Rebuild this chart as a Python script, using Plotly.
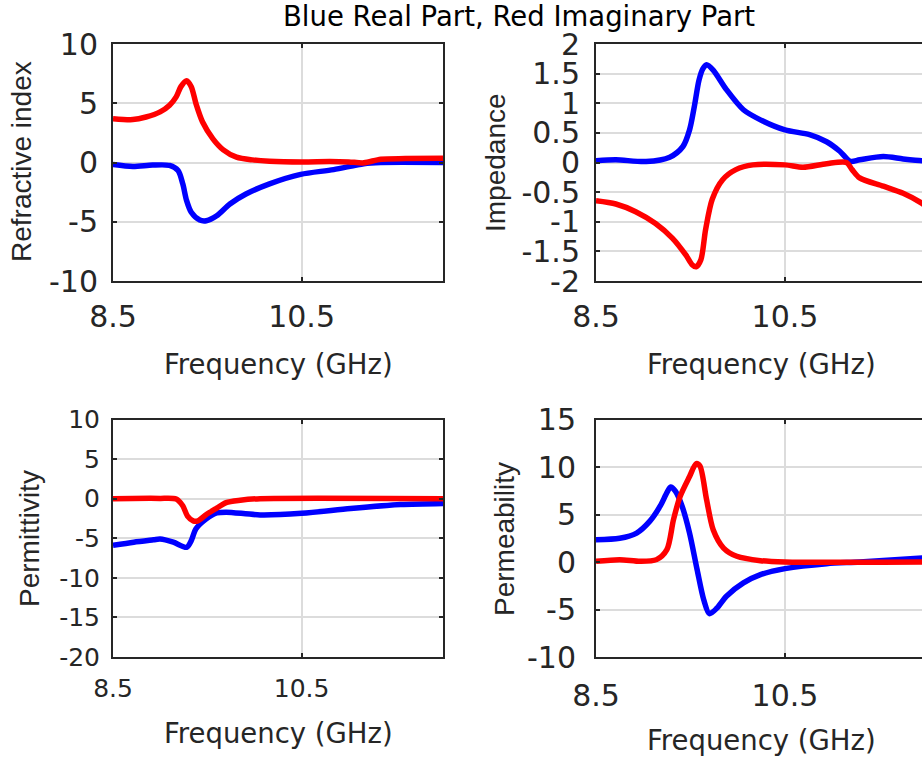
import plotly.graph_objects as go

# ---------------- data ----------------
# Refractive index
n_re_f = [8.5, 8.71, 8.92, 9.1, 9.19, 9.24, 9.28, 9.33, 9.42, 9.49, 9.6, 9.74, 9.91, 10.16, 10.49, 10.84, 11.16, 11.34, 12.0]
n_re = [-0.17, -0.34, -0.22, -0.25, -0.68, -1.8, -3.2, -4.2, -4.86, -4.92, -4.5, -3.5, -2.66, -1.8, -1.0, -0.6, -0.1, 0.0, 0.0]
n_im_f = [8.5, 8.71, 8.85, 9.0, 9.1, 9.17, 9.22, 9.28, 9.33, 9.38, 9.45, 9.56, 9.67, 9.81, 9.98, 10.16, 10.5, 10.8, 11.0, 11.16, 11.34, 11.6, 12.0]
n_im = [3.7, 3.62, 3.84, 4.27, 4.83, 5.54, 6.4, 6.9, 6.4, 4.97, 3.42, 2.0, 1.07, 0.45, 0.22, 0.11, 0.05, 0.08, 0.05, -0.03, 0.28, 0.33, 0.35]

# Impedance
z_re_f = [8.5, 8.71, 9.03, 9.28, 9.42, 9.49, 9.54, 9.59, 9.63, 9.67, 9.74, 9.88, 10.06, 10.24, 10.5, 10.76, 10.94, 11.08, 11.19, 11.29, 11.54, 11.75, 11.95, 12.0]
z_re = [0.03, 0.045, 0.017, 0.09, 0.27, 0.55, 0.94, 1.39, 1.58, 1.65, 1.56, 1.23, 0.89, 0.72, 0.55, 0.47, 0.35, 0.19, 0.02, 0.045, 0.1, 0.06, 0.03, 0.03]
z_im_f = [8.5, 8.71, 8.92, 9.13, 9.31, 9.45, 9.52, 9.56, 9.61, 9.66, 9.73, 9.84, 9.98, 10.16, 10.5, 10.69, 10.94, 11.15, 11.21, 11.29, 11.54, 11.75, 11.95, 12.0]
z_im = [-0.645, -0.7, -0.83, -1.03, -1.28, -1.56, -1.73, -1.76, -1.64, -1.13, -0.62, -0.29, -0.12, -0.04, -0.04, -0.08, -0.02, 0.0, -0.12, -0.26, -0.4, -0.52, -0.69, -0.75]

# Permittivity
e_re_f = [8.5, 8.72, 8.93, 9.0, 9.14, 9.28, 9.33, 9.38, 9.49, 9.6, 9.7, 10.06, 10.5, 11.02, 11.55, 12.0]
e_re = [-5.9, -5.5, -5.2, -5.1, -5.5, -6.14, -5.3, -3.8, -2.55, -1.8, -1.7, -2.05, -1.85, -1.25, -0.75, -0.6]
e_im_f = [8.5, 8.9, 9.0, 9.17, 9.24, 9.29, 9.35, 9.4, 9.49, 9.6, 9.7, 9.85, 10.06, 12.0]
e_im = [0.0, 0.05, 0.03, -0.05, -0.9, -2.2, -2.8, -2.8, -2.0, -1.2, -0.5, -0.2, 0.0, 0.0]

# Permeability
u_re_f = [8.5, 8.75, 8.93, 9.07, 9.18, 9.25, 9.29, 9.34, 9.41, 9.49, 9.57, 9.64, 9.7, 9.78, 9.88, 10.06, 10.24, 10.5, 10.94, 11.29, 12.0]
u_re = [2.35, 2.5, 3.05, 4.3, 5.9, 7.3, 7.9, 7.45, 5.9, 3.05, -0.8, -3.97, -5.44, -4.85, -3.6, -2.2, -1.33, -0.7, -0.18, 0.0, 0.45]
u_im_f = [8.5, 8.75, 8.97, 9.14, 9.25, 9.32, 9.39, 9.49, 9.56, 9.6, 9.67, 9.74, 9.85, 9.99, 10.24, 10.5, 12.0]
u_im = [0.07, 0.25, 0.07, 0.25, 1.3, 4.46, 6.9, 9.0, 10.36, 10.1, 6.57, 3.4, 1.47, 0.6, 0.14, 0.0, 0.0]

x_ticks = [8.5, 10.5]
x_ticktext = ["8.5", "10.5"]
n_ticks = [-10, -5, 0, 5, 10]
n_ticktext = ["-10", "-5", "0", "5", "10"]
z_ticks = [-2, -1.5, -1, -0.5, 0, 0.5, 1, 1.5, 2]
z_ticktext = ["-2", "-1.5", "-1", "-0.5", "0", "0.5", "1", "1.5", "2"]
e_ticks = [-20, -15, -10, -5, 0, 5, 10]
e_ticktext = ["-20", "-15", "-10", "-5", "0", "5", "10"]
u_ticks = [-10, -5, 0, 5, 10, 15]
u_ticktext = ["-10", "-5", "0", "5", "10", "15"]

title_text = "Blue Real Part, Red Imaginary Part"
x_label = "Frequency (GHz)"
y_labels = ["Refractive index", "Impedance", "Permittivity", "Permeability"]

# ---------------- figure ----------------
W, H = 922, 758
BLUE = "rgb(0,0,255)"
RED = "rgb(255,0,0)"
DARK = "#262626"
LW = 5.5

fig = go.Figure()

series = [
    (n_re_f, n_re, n_im_f, n_im, "x", "y"),
    (z_re_f, z_re, z_im_f, z_im, "x2", "y2"),
    (e_re_f, e_re, e_im_f, e_im, "x3", "y3"),
    (u_re_f, u_re, u_im_f, u_im, "x4", "y4"),
]
for rf, rv, imf, imv, xa, ya in series:
    fig.add_trace(go.Scatter(x=rf, y=rv, mode="lines", xaxis=xa, yaxis=ya,
                             line=dict(color=BLUE, width=LW, shape="spline", smoothing=0.8),
                             showlegend=False, hoverinfo="skip"))
    fig.add_trace(go.Scatter(x=imf, y=imv, mode="lines", xaxis=xa, yaxis=ya,
                             line=dict(color=RED, width=LW, shape="spline", smoothing=0.8),
                             showlegend=False, hoverinfo="skip"))

left_dom = [113 / W, 443 / W]
right_dom = [596 / W, 1.0]
top_dom = [1 - 281 / H, 1 - 44 / H]
bot_dom = [1 - 657 / H, 1 - 419.5 / H]

tick_font = dict(family="DejaVu Sans", size=30, color=DARK)
tick_font_small = dict(family="DejaVu Sans", size=25, color=DARK)


def xaxis(dom, anchor, rng, font, standoff):
    return dict(domain=dom, anchor=anchor, range=rng, tickvals=x_ticks, ticktext=x_ticktext,
                showline=True, linecolor=DARK, linewidth=2, mirror="ticks",
                ticks="inside", ticklen=4, tickwidth=2, tickcolor=DARK,
                showgrid=True, gridcolor="#dcdcdc", gridwidth=1.5, zeroline=False,
                tickfont=font, ticklabelstandoff=standoff, automargin=False, fixedrange=True)


def yaxis(dom, anchor, rng, vals, text, font, mirror, standoff):
    return dict(domain=dom, anchor=anchor, range=rng, tickvals=vals, ticktext=text,
                showline=True, linecolor=DARK, linewidth=2, mirror=mirror,
                ticks="inside", ticklen=4, tickwidth=2, tickcolor=DARK,
                showgrid=True, gridcolor="#dcdcdc", gridwidth=1.5, zeroline=False,
                tickfont=font, ticklabelstandoff=standoff, automargin=False, fixedrange=True)


fig.update_layout(
    template="none",
    width=W, height=H,
    margin=dict(l=0, r=0, t=0, b=0, autoexpand=False),
    paper_bgcolor="white", plot_bgcolor="white",
    xaxis=xaxis(left_dom, "y", [8.5, 12.0], tick_font, 8),
    yaxis=yaxis(top_dom, "x", [-10, 10], n_ticks, n_ticktext, tick_font, "ticks", 7),
    xaxis2=xaxis(right_dom, "y2", [8.5, 8.5 + 326 / 94.5], tick_font, 8),
    yaxis2=yaxis(top_dom, "x2", [-2, 2], z_ticks, z_ticktext, tick_font, False, 8),
    xaxis3=xaxis(left_dom, "y3", [8.5, 12.0], tick_font_small, 8),
    yaxis3=yaxis(bot_dom, "x3", [-20, 10], e_ticks, e_ticktext, tick_font_small, "ticks", 6),
    xaxis4=xaxis(right_dom, "y4", [8.5, 8.5 + 326 / 94.5], tick_font, 11),
    yaxis4=yaxis(bot_dom, "x4", [-10, 15], u_ticks, u_ticktext, tick_font, False, 12),
)

ann = []
ann.append(dict(text=title_text, x=519 / W, y=1 - 16 / H, xref="paper", yref="paper",
                xanchor="center", yanchor="middle", showarrow=False,
                font=dict(family="DejaVu Sans", size=27.5, color="black")))
xl_pos = [(278, 364), (761, 364), (278, 733), (761, 740)]
for px, py in xl_pos:
    ann.append(dict(text=x_label, x=px / W, y=1 - py / H, xref="paper", yref="paper",
                    xanchor="center", yanchor="middle", showarrow=False,
                    font=dict(family="DejaVu Sans", size=27.5, color=DARK)))
yl_pos = [(21, 162), (496, 163), (29, 539), (504, 539)]
for lbl, (px, py) in zip(y_labels, yl_pos):
    ann.append(dict(text=lbl, x=px / W, y=1 - py / H, xref="paper", yref="paper",
                    xanchor="center", yanchor="middle", showarrow=False, textangle=-90,
                    font=dict(family="Liberation Sans", size=28, color=DARK)))
fig.update_layout(annotations=ann)

fig.write_html("out.html", config={"displayModeBar": False},
               post_script="document.body.style.margin='0';document.body.style.overflow='hidden';")
